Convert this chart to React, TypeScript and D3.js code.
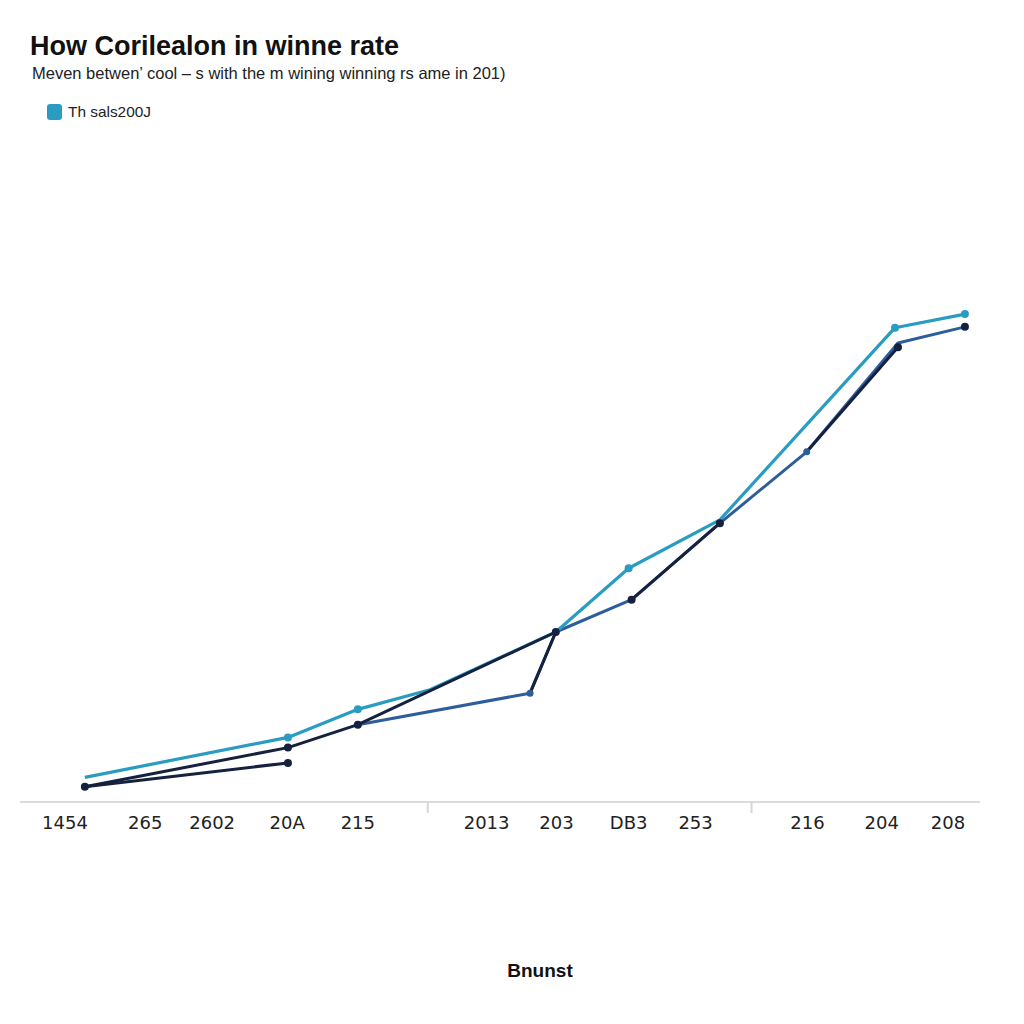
import React from "react";
import * as d3 from "d3";

const title = "How Corilealon in winne rate";
const subtitle = "Meven betwen\u2019 cool \u2013 s with the m wining winning rs ame  in 201)";
const legendLabel = "Th sals200J";
const xAxisTitle = "Bnunst";

// x-axis categories and their positions (in axis units)
const categories = ["1454", "265", "2602", "20A", "215", "2013", "203", "DB3", "253", "216", "204", "208"];
const categoryPos = [0, 1.09, 2.0, 3.02, 3.98, 5.73, 6.68, 7.66, 8.57, 10.09, 11.1, 12.0];
const separatorPos = [4.93, 9.33];

// series values [x, y]
const tealSeries: [number, number][] = [
  [0.27, 2.9], [3.03, 7.6], [3.98, 10.9], [4.96, 13.2], [6.67, 20], [7.66, 27.5], [8.9, 33.2], [11.28, 55.8], [12.23, 57.4],
];
const tealDots: [number, number][] = [[3.03, 7.6], [3.98, 10.9], [7.66, 27.5], [11.28, 55.8], [12.23, 57.4]];

const midSeries: [number, number][] = [
  [3.98, 9.1], [6.32, 12.8], [6.67, 20], [7.7, 23.8], [8.9, 32.8], [10.08, 41.2], [11.32, 54], [12.23, 55.9],
];
const midDots: [number, number][] = [[6.32, 12.8], [10.08, 41.2]];

const navySegments: [number, number][][] = [
  [[0.27, 1.8], [3.03, 6.4], [3.98, 9.1], [6.67, 20], [6.32, 12.8]],
  [[7.7, 23.8], [8.9, 32.8]],
  [[10.08, 41.2], [11.32, 53.5]],
  [[0.27, 1.8], [3.03, 4.6]],
];
const navyDots: [number, number][] = [
  [0.27, 1.8], [3.03, 6.4], [3.98, 9.1], [6.67, 20], [7.7, 23.8], [8.9, 32.8], [11.32, 53.5], [12.23, 55.9], [3.03, 4.6],
];

const TEAL = "#2a9cc2";
const MID = "#2e5d9c";
const NAVY = "#15213e";

export default function App() {
  const x = d3.scaleLinear().domain([0, 12]).range([65, 948]);
  const y = d3.scaleLinear().domain([0, 60]).range([802, 292]);
  const line = d3
    .line<[number, number]>()
    .x((d) => x(d[0]))
    .y((d) => y(d[1]));

  return (
    <svg
      width={1024}
      height={1024}
      style={{ position: "absolute", left: 0, top: 0, background: "#fff" }}
      fontFamily="Liberation Sans, Arial, sans-serif"
    >
      <rect width={1024} height={1024} fill="#fff" />
      <text x={30} y={55} fontSize={27} fontWeight="bold" fill="#111">
        {title}
      </text>
      <text x={32} y={79} fontSize={16.5} fill="#222">
        {subtitle}
      </text>
      <rect x={47} y={104} width={15} height={16} rx={3} fill={TEAL} />
      <text x={68} y={117} fontSize={15} fill="#222" textLength={83} lengthAdjust="spacingAndGlyphs">
        {legendLabel}
      </text>

      {/* axis */}
      <line x1={20} x2={980} y1={802} y2={802} stroke="#dcdcdc" strokeWidth={2} />
      {separatorPos.map((p, i) => (
        <line key={i} x1={x(p)} x2={x(p)} y1={802} y2={813} stroke="#d6d6d6" strokeWidth={2} />
      ))}
      {categories.map((c, i) => (
        <text
          key={c}
          x={x(categoryPos[i])}
          y={829}
          fontSize={18}
          fontFamily="DejaVu Sans, sans-serif"
          textAnchor="middle"
          fill="#222"
        >
          {c}
        </text>
      ))}
      <text x={540} y={977} fontSize={19} fontWeight="bold" textAnchor="middle" fill="#111">
        {xAxisTitle}
      </text>

      {/* lines */}
      <path d={line(midSeries) ?? ""} fill="none" stroke={MID} strokeWidth={3} strokeLinejoin="round" />
      <path d={line(tealSeries) ?? ""} fill="none" stroke={TEAL} strokeWidth={3.2} strokeLinejoin="round" />
      {navySegments.map((s, i) => (
        <path key={i} d={line(s) ?? ""} fill="none" stroke={NAVY} strokeWidth={3} strokeLinejoin="round" />
      ))}
      {midDots.map((d, i) => (
        <circle key={"m" + i} cx={x(d[0])} cy={y(d[1])} r={3.5} fill={MID} />
      ))}
      {tealDots.map((d, i) => (
        <circle key={"t" + i} cx={x(d[0])} cy={y(d[1])} r={4} fill={TEAL} />
      ))}
      {navyDots.map((d, i) => (
        <circle key={"n" + i} cx={x(d[0])} cy={y(d[1])} r={4} fill={NAVY} />
      ))}
    </svg>
  );
}
